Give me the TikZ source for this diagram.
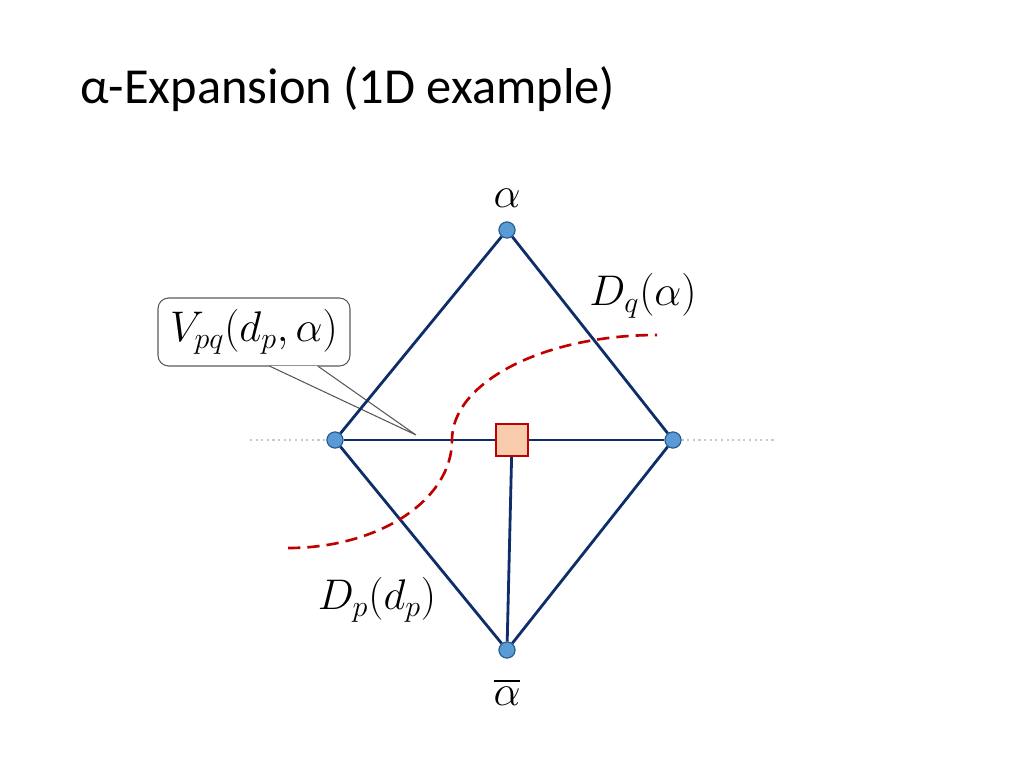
\RequirePackage{fix-cm}
\documentclass[tikz,border=0pt]{standalone}
\usepackage{amsmath}
\usepackage{fontspec}
\setmainfont{Carlito}
\usepackage{tikz}
\usetikzlibrary{positioning, calc}
\definecolor{edgeblue}{HTML}{0F2D69}
\definecolor{vertexfill}{HTML}{5B9BD5}
\definecolor{vertexline}{HTML}{2A5A92}
\definecolor{cutred}{HTML}{C00000}
\definecolor{auxfill}{HTML}{F8CBAD}
\definecolor{dotgray}{HTML}{C8C8C8}
\definecolor{boxgray}{HTML}{595959}

\begin{document}
\begin{tikzpicture}[x=0.02cm, y=-0.02cm]
    \tikzstyle{vertex} = [circle, draw=vertexline, fill=vertexfill, minimum size=0.32cm, inner sep=0pt, line width=0.6pt]
    \tikzstyle{auxnode} = [rectangle, draw=cutred, fill=auxfill, minimum size=0.64cm, inner sep=0pt, line width=0.6pt]
    \tikzstyle{link} = [draw=edgeblue, line width=1.6pt]
    \tikzstyle{cut} = [draw=cutred, line width=1.5pt, dash pattern=on 7pt off 4pt]
    \tikzstyle{guide} = [draw=dotgray, line width=1.2pt, dotted]
    \tikzstyle{lbl} = [font=\fontsize{24.4}{29}\selectfont, inner sep=1pt]
    \tikzstyle{callout} = [rectangle, rounded corners=6pt, draw=boxgray, line width=0.6pt, minimum width=3.84cm, minimum height=1.36cm, font=\fontsize{24.4}{29}\selectfont]

    \useasboundingbox (0,0) rectangle (1024,768);

    % title
    \node [anchor=base west, inner sep=0pt, font=\fontsize{28.7}{34}\selectfont] (title) at (80,103) {α-Expansion (1D example)};

    % vertices
    \node [vertex] (a) at (507,230) {};
    \node [vertex] (p) at (335,440) {};
    \node [vertex] (q) at (673,440) {};
    \node [vertex] (abar) at (507,650) {};
    \node [auxnode] (aux) at (512,440) {};

    % labels
    \node [lbl] (la) at (507,198) {$\alpha$};
    \node [lbl] (labar) at (507,692) {$\overline{\alpha}$};
    \node [lbl] (ldq) at (643,296) {$D_q(\alpha)$};
    \node [lbl] (ldp) at (377,600) {$D_p(d_p)$};

    % callout
    \node [callout] (vpq) at (254,332) {$V_{pq}(d_p,\alpha)$};
    \coordinate (tip) at (416,435);
    \coordinate (b1) at ($(vpq.south west)!0.58!(vpq.south east)+(0,-0.5)$);
    \coordinate (b2) at ($(vpq.south west)!0.83!(vpq.south east)+(0,-0.5)$);
    \fill [white] (b1) -- (tip) -- (b2) -- cycle;
    \draw [boxgray, line width=0.6pt] (b1) -- (tip) -- (b2);

    % dotted guides
    \coordinate (gl) at (250,440);
    \coordinate (gr) at (775,440);
    \path [guide] (gl) -- (p);
    \path [guide] (q) -- (gr);

    % edges
    \path [link] (a) -- (p);
    \path [link] (a) -- (q);
    \path [link] (p) -- (aux);
    \path [link] (aux) -- (q);
    \path [link] (p) -- (abar);
    \path [link] (q) -- (abar);
    \path [link] (aux) -- (abar);

    % cut
    \coordinate (c0) at (288,548);
    \coordinate (cm) at (452,440);
    \coordinate (c1) at (657,335);
    \path [cut] (c0) .. controls (379,548) and (452,500) .. (cm)
                .. controls (452,382) and (544,335) .. (c1);

    \node [vertex] at (a) {};
    \node [vertex] at (p) {};
    \node [vertex] at (q) {};
    \node [vertex] at (abar) {};
    \node [auxnode] at (aux) {};
\end{tikzpicture}
\end{document}
